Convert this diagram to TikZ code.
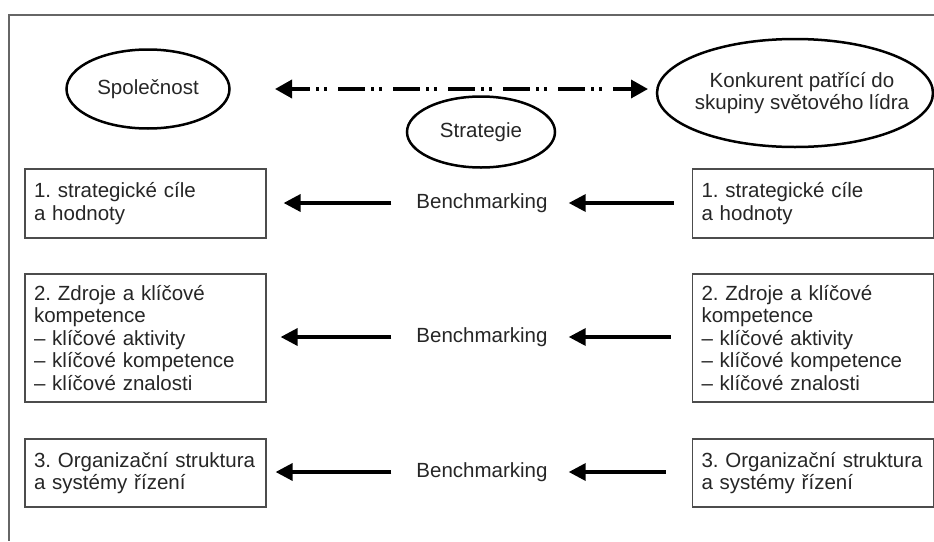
\documentclass[tikz,border=0pt]{standalone}
\usepackage{fontspec}
\setmainfont{Liberation Sans}
\usetikzlibrary{shapes.geometric,arrows.meta}
\hyphenpenalty=10000
\exhyphenpenalty=10000
\begin{document}
\begin{tikzpicture}[x=1pt,y=-1pt,
  txt/.style={font=\fontsize{20.5}{22.5}\selectfont\frenchspacing, text=black!85},
  ell/.style={draw=black, line width=2.5pt, ellipse, inner sep=0pt, txt},
  box/.style={draw=black!70, line width=1.2pt, inner xsep=9pt, inner ysep=0pt,
    text width=223pt, align=left, txt},
  arr/.style={line width=3.5pt, -{Triangle[length=17pt,width=17pt]}},
  dasharr/.style={line width=3.5pt, {Triangle[length=17pt,width=18pt]}-{Triangle[length=17pt,width=18pt]},
    dash pattern=on 27pt off 6pt on 3pt off 5pt on 3pt off 11pt, dash phase=8pt},
  bench/.style={txt, inner sep=0pt}]
\useasboundingbox (0,0) rectangle (934,541);
\fill[white] (0,0) rectangle (934,541);
% frame
\draw[black!60, line width=1.5pt] (934,15) -- (9,15) -- (9,541);
% ellipses
\node[ell, minimum width=163pt, minimum height=79pt] (spol) at (148,89) {Společnost};
\node[ell, minimum width=148pt, minimum height=71pt] (strat) at (481,132) {Strategie};
\node[ell, minimum width=276pt, minimum height=108pt] (konk) at (795,93) {};
\node[txt, align=center, inner sep=0pt] (konkt) at (802,93) {Konkurent patřící do\\skupiny světového lídra};
\coordinate (d1) at (275,89);
\coordinate (d2) at (648,89);
\draw[dasharr] (d1) -- (d2);
% boxes
\node[box, minimum height=69pt] (l1) at (145.5,203.5) {1. strategické cíle\\a hodnoty};
\node[box, minimum height=69pt] (r1) at (813,203.5) {1. strategické cíle\\a hodnoty};
\node[box, minimum height=128pt] (l2) at (145.5,338) {2. Zdroje a klíčové\\kompetence\\– klíčové aktivity\\– klíčové kompetence\\– klíčové znalosti};
\node[box, minimum height=128pt] (r2) at (813,338) {2. Zdroje a klíčové\\kompetence\\– klíčové aktivity\\– klíčové kompetence\\– klíčové znalosti};
\node[box, minimum height=68pt] (l3) at (145.5,473) {3. Organizační struktura\\a systémy řízení};
\node[box, minimum height=68pt] (r3) at (813,473) {3. Organizační struktura\\a systémy řízení};
% benchmarking
\node[bench] (b1) at (482,203) {Benchmarking};
\node[bench] (b2) at (482,337) {Benchmarking};
\node[bench] (b3) at (482,472) {Benchmarking};
\draw[arr] ([xshift=-18pt]r1.west |- b1) -- ([xshift=21pt]b1.east);
\draw[arr] ([xshift=-25pt]b1.west) -- ([xshift=17pt]l1.east |- b1);
\draw[arr] ([xshift=-21pt]r2.west |- b2) -- ([xshift=21pt]b2.east);
\draw[arr] ([xshift=-25pt]b2.west) -- ([xshift=14pt]l2.east |- b2);
\draw[arr] ([xshift=-26pt]r3.west |- b3) -- ([xshift=21pt]b3.east);
\draw[arr] ([xshift=-25pt]b3.west) -- ([xshift=9pt]l3.east |- b3);
\end{tikzpicture}
\end{document}
